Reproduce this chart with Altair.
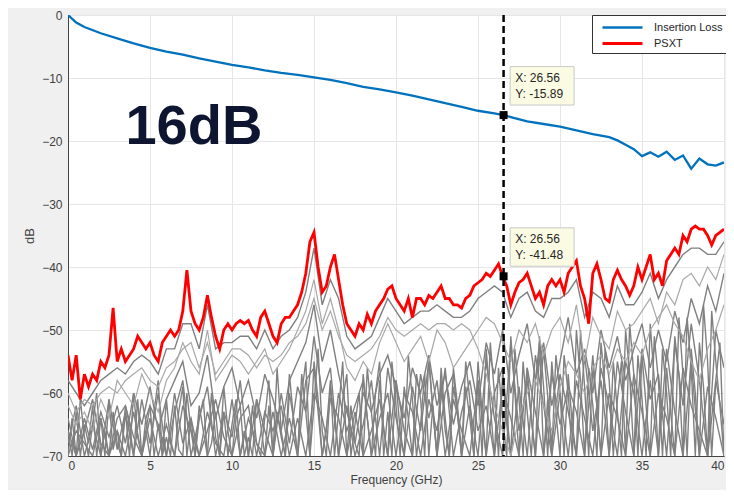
import altair as alt
import numpy as np
import pandas as pd

# ---------------- data ----------------
freq_il = [0, 0.5, 1, 2, 3, 4, 5, 6, 7, 8, 9, 10, 11, 12, 13, 14, 15, 16, 17, 18, 19, 20,
           21, 22, 23, 24, 25, 26, 26.56, 27, 28, 29, 30, 31, 32, 33, 33.5, 34, 34.5, 35,
           35.5, 36, 36.5, 37, 37.5, 38, 38.5, 39, 39.5, 40]
il_db = [0, -1.2, -1.9, -2.9, -3.7, -4.5, -5.2, -5.8, -6.3, -6.9, -7.4, -7.9, -8.3, -8.8,
         -9.2, -9.5, -9.9, -10.3, -10.8, -11.4, -11.8, -12.3, -12.8, -13.4, -14.0, -14.6,
         -15.2, -15.6, -15.89, -16.2, -16.9, -17.3, -17.7, -18.3, -18.9, -19.4, -19.9, -20.6,
         -21.3, -22.4, -21.8, -22.5, -21.7, -23.0, -22.3, -24.4, -22.8, -23.7, -23.9, -23.4]

freq_fine = list(np.round(np.arange(0, 40.001, 0.25), 2))
psxt_db = [-54, -58, -54, -61, -57, -59, -57, -58, -55, -56, -54, -46.5, -55, -53, -55, -54,
           -53, -51, -52, -53, -52, -54, -55, -52, -51, -50, -51, -50, -47, -40.5, -47, -49,
           -50, -48, -44.5, -48, -51, -53, -50, -49, -50, -49, -48.5, -49, -48.5, -50, -51, -48,
           -47, -49, -51, -52, -49, -48, -48, -47, -46, -44, -41, -36, -34.5, -40, -44, -43,
           -40, -38, -42, -46, -49, -50, -51, -49, -50, -47.5, -49, -47, -46, -45, -43.5, -43,
           -45, -46, -47, -45, -48, -45, -45, -46, -44.5, -45, -44, -43, -45, -45, -46, -46,
           -46.5, -45, -44.5, -43, -42.5, -42, -41, -41.5, -40.5, -39.5, -41.5, -43, -46, -44,
           -42.5, -42, -41, -43, -45, -44, -46, -43, -42, -43, -42, -44, -41, -40, -39, -43,
           -45, -49, -41, -39.5, -42, -45, -45.5, -42, -40.5, -42, -43, -44.5, -43, -40, -42,
           -40, -38, -42, -41, -43, -39, -38, -37, -38, -35, -36, -34, -33.5, -34, -34, -35,
           -36.5, -35, -34.5, -34]

freq_xt = list(np.round(np.arange(0, 40.001, 0.5), 2))
xt1 = [-58, -60, -62, -60, -58, -57, -56, -57, -55, -54, -55, -57, -53, -53, -49, -49, -53, -46,
       -53, -52, -52, -51, -51, -53, -50, -53, -51, -50, -48, -44, -37, -46, -42, -45, -51, -53,
       -52, -51, -48, -45, -47, -49, -48, -47, -47, -46, -47, -48, -48, -47, -45, -44, -43, -44,
       -48, -45, -44, -47, -48, -45, -45, -44, -42, -48, -44, -45, -48, -43, -46, -46, -44, -41,
       -45, -42, -40, -38, -37, -37, -38, -38, -36]
xt2 = [-62, -65, -63, -66, -61, -64, -58, -60, -62, -57, -60, -63, -58, -56, -52, -55, -57, -50,
       -58, -56, -54, -55, -57, -55, -53, -57, -55, -53, -50, -47, -42, -49, -45, -50, -56, -58,
       -55, -57, -52, -49, -52, -55, -53, -51, -55, -50, -52, -56, -54, -52, -50, -48, -49, -52,
       -55, -50, -52, -49, -54, -50, -48, -52, -46, -55, -48, -51, -53, -47, -50, -49, -47, -45,
       -49, -44, -46, -42, -41, -43, -40, -42, -38]
xt3 = [-66, -70, -64, -69, -63, -67, -62, -68, -60, -65, -59, -66, -61, -58, -55, -62, -60, -54,
       -64, -59, -56, -62, -58, -64, -57, -61, -66, -58, -55, -52, -46, -55, -50, -57, -63, -68,
       -60, -63, -57, -54, -59, -64, -56, -60, -54, -62, -57, -65, -59, -55, -62, -52, -57, -50,
       -60, -54, -49, -58, -52, -62, -55, -48, -57, -53, -60, -50, -56, -51, -58, -53, -49, -56,
       -50, -55, -47, -52, -45, -49, -43, -47, -41]
xt4 = [-68, -62, -70, -65, -70, -61, -69, -63, -70, -61, -68, -60, -70, -63, -58, -70, -64, -59,
       -70, -63, -67, -58, -70, -61, -66, -70, -60, -68, -59, -63, -51, -60, -56, -70, -62, -70,
       -65, -58, -70, -56, -64, -70, -59, -66, -55, -70, -60, -57, -70, -62, -70, -55, -64, -70,
       -52, -66, -58, -70, -53, -68, -57, -63, -70, -54, -66, -58, -70, -55, -63, -70, -53, -61,
       -57, -70, -52, -62, -49, -58, -70, -50, -56]
xt5 = [-70, -66, -68, -70, -64, -70, -66, -70, -63, -70, -64, -70, -65, -70, -62, -66, -70, -63,
       -68, -70, -61, -70, -64, -68, -70, -63, -70, -64, -70, -58, -56, -70, -61, -64, -70, -63,
       -70, -66, -61, -70, -58, -66, -70, -57, -64, -58, -70, -61, -66, -70, -58, -70, -60, -56,
       -70, -59, -70, -54, -62, -70, -60, -70, -58, -64, -70, -56, -62, -70, -55, -60, -70, -58,
       -70, -53, -63, -70, -55, -70, -59, -64, -70]
xt6 = [-60, -63, -61, -62, -60, -59, -60, -58, -57, -56, -58, -59, -56, -55, -53, -52, -56, -52,
       -57, -55, -53, -53, -54, -56, -54, -55, -54, -52, -51, -49, -45, -50, -47, -51, -54, -55,
       -54, -53, -51, -48, -50, -51, -50, -49, -50, -49, -49, -50, -49, -50, -53, -57, -62, -66,
       -70, -64, -60, -58, -62, -66, -59, -55, -57, -60, -56, -54, -57, -53, -55, -52, -54, -50,
       -48, -46, -49, -51, -55, -58, -53, -50, -46]
xt7 = [-64, -70, -66, -61, -68, -70, -64, -62, -67, -70, -62, -65, -70, -60, -68, -64, -70, -66,
       -61, -67, -70, -64, -62, -70, -63, -66, -62, -70, -64, -70, -60, -64, -70, -60, -66, -62,
       -58, -70, -64, -60, -70, -60, -63, -70, -61, -66, -56, -70, -63, -58, -66, -62, -70, -59,
       -64, -70, -56, -63, -70, -57, -65, -59, -63, -70, -54, -70, -60, -64, -70, -57, -63, -70,
       -60, -64, -70, -56, -62, -66, -70, -58, -65]

# two low, fast-varying crosstalk traces sampled every 0.25 GHz
xt8 = [-66, -70, -63, -70, -65, -68, -62, -70, -64, -70, -61, -69, -66, -70, -63, -70, -60, -67,
       -70, -64, -62, -70, -65, -70, -61, -68, -70, -63, -59, -70, -64, -70, -62, -66, -70, -60,
       -67, -70, -63, -70, -65, -61, -70, -66, -70, -62, -68, -70, -64,
       -58, -70, -63, -67, -70, -57, -64, -70, -60, -55, -70, -62, -53, -66, -70, -59, -64, -70,
       -61, -57, -70, -65, -60, -70, -56, -63, -70, -58, -66, -70, -55, -62, -70, -59, -64, -70,
       -57, -61, -70, -54, -63, -70, -58, -66, -70, -56, -62, -70, -59, -64, -70,
       -55, -63, -70, -52, -60, -70, -57, -65, -70, -53, -61, -70, -56, -64, -70, -51, -59, -70,
       -55, -63, -70, -54, -60, -70, -50, -58, -70, -56, -62, -70, -52, -59, -70, -55, -63, -70,
       -50, -57, -70, -54, -61, -70, -49, -58, -70, -53, -60, -70, -51, -57, -70, -48, -56, -70,
       -52, -59, -70, -47, -55, -62, -70]
xt9 = [-70, -64, -70, -61, -67, -70, -65, -60, -70, -66, -70, -63, -68, -70, -62, -65, -70, -61,
       -70, -66, -70, -63, -58, -70, -67, -70, -62, -69, -70, -60, -66, -70, -64, -61, -70, -68,
       -63, -70, -59, -66, -70, -64, -62, -70, -67, -70, -61, -65, -70,
       -62, -70, -56, -66, -70, -60, -64, -70, -57, -63, -70, -55, -61, -70, -66, -58, -70, -63,
       -55, -70, -62, -68, -70, -57, -64, -70, -60, -55, -70, -63, -70, -58, -66, -70, -54, -61,
       -70, -65, -57, -70, -62, -70, -56, -64, -70, -59, -63, -70, -55, -61, -70,
       -58, -70, -53, -62, -70, -56, -64, -70, -51, -60, -70, -55, -63, -70, -58, -52, -70, -61,
       -70, -54, -60, -70, -57, -65, -70, -50, -59, -70, -56, -62, -70, -53, -58, -70, -61, -55,
       -70, -49, -57, -70, -54, -62, -70, -51, -58, -70, -56, -63, -70, -48, -57, -70, -53, -60,
       -70, -46, -55, -70, -58, -52, -70]

tip_x = [26.56, 26.56]
tip_y = [-15.89, -41.48]

x_ticks = [0, 5, 10, 15, 20, 25, 30, 35, 40]
y_ticks = [0, -10, -20, -30, -40, -50, -60, -70]

# ---------------- frames ----------------
il_df = pd.DataFrame({"f": freq_il, "db": il_db, "name": "Insertion Loss"})
ps_df = pd.DataFrame({"f": freq_fine, "db": psxt_db, "name": "PSXT"})
main_df = pd.concat([il_df, ps_df], ignore_index=True)


def long(series, freqs):
    parts = []
    for k, v in series.items():
        parts.append(pd.DataFrame({"f": freqs, "db": v, "s": k}))
    return pd.concat(parts, ignore_index=True)


dark_df = pd.concat([long({"XT1": xt1, "XT3": xt3, "XT4": xt4, "XT5": xt5, "XT7": xt7}, freq_xt),
                     long({"XT8": xt8, "XT9": xt9}, freq_fine)], ignore_index=True)
light_df = long({"XT2": xt2, "XT6": xt6}, freq_xt)

tips = pd.DataFrame({"x": tip_x, "y": tip_y})
tips["bx1"] = tips["x"] + 0.4
tips["bx2"] = tips["x"] + 4.3
tips["by1"] = tips["y"] + 7.7
tips["by2"] = tips["y"] + 1.6
tips["l1"] = tips["x"].map(lambda v: f"X: {v:.2f}")
tips["l2"] = tips["y"].map(lambda v: f"Y: {v:.2f}")

label_df = pd.DataFrame({"x": [3.5], "y": [-20.4], "t": ["16dB"]})

# ---------------- scales ----------------
xs = alt.Scale(domain=[0, 40], nice=False, zero=False)
ys = alt.Scale(domain=[-70, 0], nice=False, zero=False)

x_axis = alt.Axis(values=x_ticks, title="Frequency (GHz)", grid=True, ticks=False,
                  labelPadding=4, titlePadding=3, titleFontSize=12)
y_axis = alt.Axis(values=y_ticks, title="dB", grid=True, ticks=False,
                  labelPadding=6, titlePadding=5)

base_x = alt.X("f:Q", scale=xs, axis=x_axis)
base_y = alt.Y("db:Q", scale=ys, axis=y_axis)

dark = alt.Chart(dark_df).mark_line(color="#808080", strokeWidth=1.4, clip=True).encode(
    x=base_x, y=base_y, detail="s:N")
light = alt.Chart(light_df).mark_line(color="#a8a8a8", strokeWidth=1.2, clip=True).encode(
    x="f:Q", y="db:Q", detail="s:N")

main = alt.Chart(main_df).mark_line(clip=True).encode(
    x="f:Q", y="db:Q",
    color=alt.Color("name:N",
                    scale=alt.Scale(domain=["Insertion Loss", "PSXT"], range=["#0072BD", "#FF0000"]),
                    legend=alt.Legend(orient="none", legendX=524, legendY=0, title=None,
                                      symbolType="M-2.5,0H2.5", symbolSize=256,
                                      symbolStrokeWidth=2, symbolOffset=18,
                                      labelFontSize=11, labelFont="Liberation Sans",
                                      labelColor="#262626", fillColor="white",
                                      strokeColor="#333333", padding=3, rowPadding=1,
                                      labelOffset=22)),
    strokeWidth=alt.StrokeWidth("name:N", scale=alt.Scale(domain=["Insertion Loss", "PSXT"],
                                                           range=[2.3, 2.8]), legend=None),
    order=alt.Order("name:N"),
)

rule = alt.Chart(tips.iloc[[0]]).mark_rule(color="black", strokeWidth=2.5,
                                           strokeDash=[7, 4]).encode(x="x:Q")

boxes = alt.Chart(tips).mark_rect(fill="#fbfbe4", stroke="#c8c8c8", strokeWidth=1).encode(
    x="bx1:Q", x2="bx2:Q", y="by1:Q", y2="by2:Q")
t1 = alt.Chart(tips).mark_text(align="left", baseline="top", dx=5, dy=6, fontSize=12,
                               font="Liberation Sans", color="#262626").encode(
    x="bx1:Q", y="by1:Q", text="l1:N")
t2 = alt.Chart(tips).mark_text(align="left", baseline="top", dx=5, dy=22, fontSize=12,
                               font="Liberation Sans", color="#262626").encode(
    x="bx1:Q", y="by1:Q", text="l2:N")
marks = alt.Chart(tips).mark_square(color="black", size=64, opacity=1).encode(
    x="x:Q", y="y:Q")

big = alt.Chart(label_df).mark_text(align="left", baseline="alphabetic", fontSize=56,
                                    fontWeight="bold", font="Liberation Sans",
                                    color="#0d1530").encode(x="x:Q", y="y:Q", text="t:N")

chart = alt.layer(dark, light, main, rule, boxes, t1, t2, marks, big).properties(
    width=656, height=441,
    autosize=alt.AutoSizeParams(type="none"),
    padding={"left": 60, "top": 7, "right": 2, "bottom": 34},
    background="#f0f0f0",
).configure_view(fill="white", stroke="#555555", strokeWidth=1).configure_axis(
    gridColor="#e6e6e6", gridWidth=1, domainColor="#444444",
    labelFont="Liberation Sans", labelFontSize=12, labelColor="#404040",
    titleFont="Liberation Sans", titleFontSize=13, titleFontWeight="normal",
    titleColor="#404040",
)

chart.save("out.html", embed_options={"renderer": "svg", "actions": False})
